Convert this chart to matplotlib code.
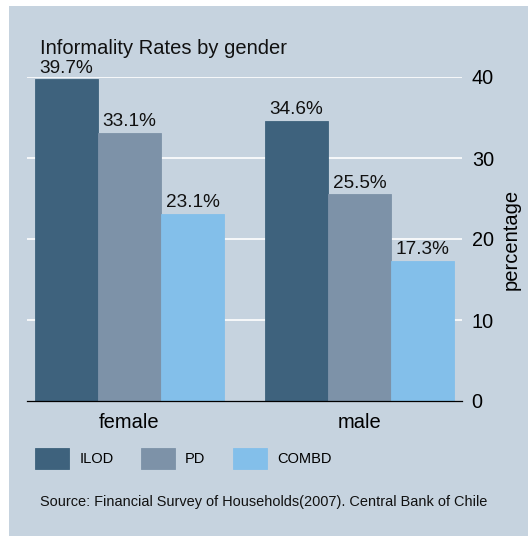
import numpy as np
import matplotlib.pyplot as plt
from matplotlib.patches import Rectangle

groups = ["female", "male"]
series = ["ILOD", "PD", "COMBD"]
ilod = [39.7, 34.6]
pd_ = [33.1, 25.5]
combd = [23.1, 17.3]
yticks = [0, 10, 20, 30, 40]

colors = ["#3e627d", "#7d92a8", "#83bfea"]
bg = "#c6d3df"

plt.rcParams['font.family'] = ['Liberation Sans', 'DejaVu Sans']

fig = plt.figure(figsize=(5.28, 5.36), dpi=100)
fig.patch.set_facecolor("white")
# bluish background, leaving a thin white strip left and top
fig.patches.append(Rectangle((9 / 528, 0), 1, 1 - 6 / 536, transform=fig.transFigure,
                             facecolor=bg, edgecolor="none", zorder=-10))

ax = fig.add_axes([27 / 528, 135 / 536, 435 / 528, 324 / 536])
ax.set_facecolor(bg)

# bar centres, one bar unit = bar width, gap between groups ~0.65
centers = [np.array([0, 1, 2]), np.array([0, 1, 2]) + 3.651]
vals = [ilod, pd_, combd]
for g in range(len(groups)):
    for s in range(len(series)):
        v = vals[s][g]
        ax.bar(centers[g][s], v, width=1.0, color=colors[s], edgecolor=colors[s],
               linewidth=0.6, zorder=3, label=series[s] if g == 0 else None)
        ax.text(centers[g][s], v + 0.85, "%.1f%%" % v, ha="center", va="baseline",
                fontsize=13.7, color="#111111", clip_on=False, zorder=4)

ax.set_xlim(-0.627, 6.278)
ax.set_ylim(0, 40)

for t in yticks[1:]:
    ax.axhline(t, color="white", lw=1.2, zorder=1)

for sp in ["top", "left", "right"]:
    ax.spines[sp].set_visible(False)
ax.spines["bottom"].set_color("black")
ax.spines["bottom"].set_linewidth(0.9)
ax.spines["bottom"].set_zorder(5)

ax.yaxis.tick_right()
ax.yaxis.set_label_position("right")
ax.set_yticks(yticks)
ax.set_yticklabels([str(t) for t in yticks], fontsize=14.3)
ax.tick_params(axis="y", length=0, pad=7)
ax.set_ylabel("percentage", fontsize=14.5, labelpad=6)

ax.set_xticks([1, 1 + 3.651])
ax.set_xticklabels(groups, fontsize=14.5)
ax.tick_params(axis="x", length=0, pad=9)

fig.text(40 / 528, 1 - 54 / 536, "Informality Rates by gender", fontsize=14.5,
         ha="left", va="baseline", color="#111111")

leg = fig.legend(loc="upper left", bbox_to_anchor=(22 / 528, 1 - 435 / 536), ncol=3,
                 frameon=False, fontsize=10.5, handlelength=2.3, handleheight=1.8,
                 handletextpad=0.72, columnspacing=1.9)

fig.text(40 / 528, 1 - 506 / 536,
         "Source: Financial Survey of Households(2007). Central Bank of Chile",
         fontsize=10.45, ha="left", va="baseline", color="#111111")

fig.savefig("out.png", dpi=100, facecolor=fig.get_facecolor())
